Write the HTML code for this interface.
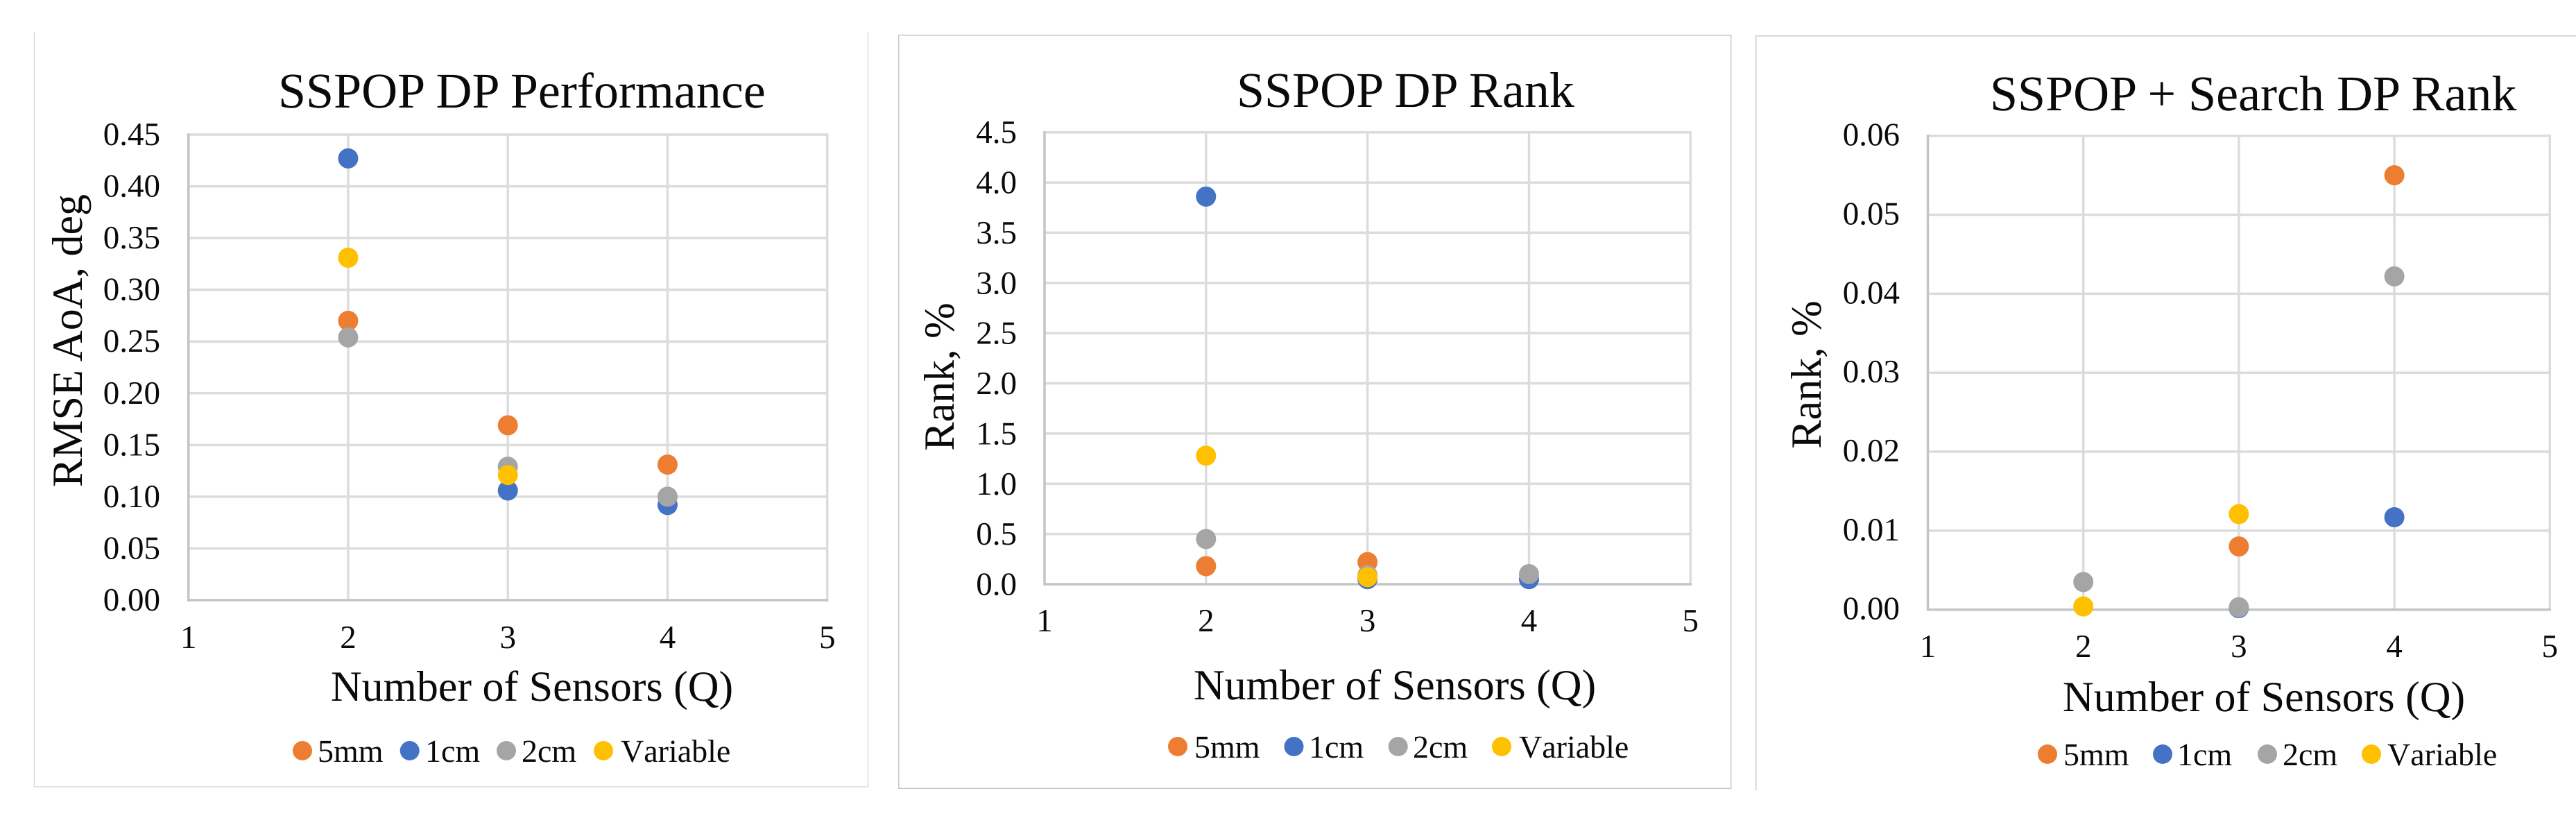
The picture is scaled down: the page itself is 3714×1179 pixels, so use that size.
<!DOCTYPE html>
<html lang="en">
<head>
<meta charset="utf-8">
<title>SSPOP DP charts</title>
<style>
html,body{margin:0;padding:0;background:#fff;width:3714px;height:1179px;overflow:hidden}
svg{display:block}
text{font-family:"Liberation Serif","Times New Roman",serif;fill:#0a0a0a;text-rendering:geometricPrecision}
.title{font-size:72px}
.axis-title{font-size:62px}
.tick{font-size:47px}
.legend-label{font-size:46px;font-kerning:none}
</style>
</head>
<body>
<svg id="figure" xmlns="http://www.w3.org/2000/svg" width="3714" height="1179" viewBox="0 0 3714 1179">
  <rect x="0" y="0" width="3714" height="1179" fill="#ffffff"/>

  <g id="chart-perf">
    <path d="M49.5 46V1134H1251.5V46" fill="none" stroke="#dcdcdc" stroke-width="1.5"/>
    <text class="title" x="401" y="155">SSPOP DP Performance</text>
    <text class="axis-title" text-anchor="middle" transform="translate(118 491) rotate(-90)">RMSE AoA, deg</text>
    <text class="axis-title" text-anchor="middle" x="767" y="1010">Number of Sensors (Q)</text>
  </g>

  <g id="chart-rank">
    <rect x="1295.7" y="50.7" width="1200" height="1085.6" fill="none" stroke="#c8c8c8" stroke-width="1.5"/>
    <text class="title" x="1783" y="154">SSPOP DP Rank</text>
    <text class="axis-title" text-anchor="middle" transform="translate(1375 543) rotate(-90)">Rank, %</text>
    <text class="axis-title" text-anchor="middle" x="2011" y="1008">Number of Sensors (Q)</text>
  </g>

  <g id="chart-search">
    <path d="M2531.7 1139V51.7H3714" fill="none" stroke="#c8c8c8" stroke-width="1.5"/>
    <text class="title" x="2869" y="159">SSPOP + Search DP Rank</text>
    <text class="axis-title" text-anchor="middle" transform="translate(2625 540) rotate(-90)">Rank, %</text>
    <text class="axis-title" text-anchor="middle" x="3264" y="1025">Number of Sensors (Q)</text>
  </g>
</svg>

<script>
// Shared data
const seriesNames = ['5mm', '1cm', '2cm', 'Variable'];
const seriesKeys = ['5mm', '1cm', '2cm', 'variable'];
const seriesColors = ['#ED7D31', '#4472C4', '#A5A5A5', '#FFC000'];
const xCategories = [2, 3, 4];
const xTickLabels = ['1', '2', '3', '4', '5'];

// Chart 1: SSPOP DP Performance
const perfYTicks = ['0.00', '0.05', '0.10', '0.15', '0.20', '0.25', '0.30', '0.35', '0.40', '0.45'];
const perf5mm = [0.27, 0.169, 0.131];
const perf1cm = [0.427, 0.106, 0.092];
const perf2cm = [0.254, 0.129, 0.1];
const perfVariable = [0.331, 0.121, null];

// Chart 2: SSPOP DP Rank
const rankYTicks = ['0.0', '0.5', '1.0', '1.5', '2.0', '2.5', '3.0', '3.5', '4.0', '4.5'];
const rank5mm = [0.18, 0.22, null];
const rank1cm = [3.86, 0.05, 0.05];
const rank2cm = [0.45, 0.09, 0.1];
const rankVariable = [1.28, 0.07, null];

// Chart 3: SSPOP + Search DP Rank
const searchYTicks = ['0.00', '0.01', '0.02', '0.03', '0.04', '0.05', '0.06'];
const search5mm = [null, 0.008, 0.055];
const search1cm = [null, 0.0002, 0.0117];
const search2cm = [0.0035, 0.0003, 0.0422];
const searchVariable = [0.0004, 0.0121, null];

const SVG_NS = 'http://www.w3.org/2000/svg';

function make(tag, attrs, parent) {
  const node = document.createElementNS(SVG_NS, tag);
  Object.keys(attrs).forEach(function (k) { node.setAttribute(k, attrs[k]); });
  parent.appendChild(node);
  return node;
}

function drawChart(cfg) {
  const root = document.getElementById(cfg.id);
  const xMin = Number(xTickLabels[0]);
  const xMax = Number(xTickLabels[xTickLabels.length - 1]);
  const yMin = Number(cfg.yTicks[0]);
  const yMax = Number(cfg.yTicks[cfg.yTicks.length - 1]);
  const xScale = function (v) { return cfg.left + (v - xMin) / (xMax - xMin) * (cfg.right - cfg.left); };
  const yScale = function (v) { return cfg.bottom - (v - yMin) / (yMax - yMin) * (cfg.bottom - cfg.top); };

  const grid = make('g', { stroke: '#DCDCDC', 'stroke-width': 3.5 }, root);
  
  
  cfg.yTicks.forEach(function (t) {
    const y = yScale(Number(t));
    if (Number(t) === yMin) return;
    const line = make('line', { x1: cfg.left, x2: cfg.right + 1.7, y1: y, y2: y }, grid);
    
    
  });
  xTickLabels.forEach(function (t) {
    const x = xScale(Number(t));
    if (Number(t) === xMin) return;
    const line = make('line', { x1: x, x2: x, y1: cfg.top - 1.7, y2: cfg.bottom }, grid);
    
    
  });

  const yAxis = make('line', { x1: cfg.left, x2: cfg.left, y1: cfg.top - 1.7, y2: cfg.bottom + 1.7, stroke: '#C4C4C4', 'stroke-width': 3.5 }, root);
  
  
  const xAxis = make('line', { x1: cfg.left, x2: cfg.right + 1.7, y1: cfg.bottom, y2: cfg.bottom, stroke: '#C4C4C4', 'stroke-width': 3.5 }, root);
  
  

  cfg.yTicks.forEach(function (t) {
    const label = make('text', { class: 'tick', x: cfg.yLabelRight, y: yScale(Number(t)) + cfg.yLabelDrop, 'text-anchor': 'end' }, root);
    
    
    label.textContent = t;
  });
  xTickLabels.forEach(function (t) {
    const label = make('text', { class: 'tick', x: xScale(Number(t)), y: cfg.xLabelBase, 'text-anchor': 'middle' }, root);
    
    
    label.textContent = t;
  });

  cfg.series.forEach(function (values, s) {
    const group = make('g', { fill: seriesColors[s] }, root);
    
    
    values.forEach(function (v, i) {
      if (v === null) return;
      const dot = make('circle', { cx: xScale(xCategories[i]), cy: yScale(v), r: 14.5 }, group);
      
      
    });
  });

  seriesNames.forEach(function (name, s) {
    const entry = make('g', {}, root);
    
    
    const swatch = make('circle', { cx: cfg.legendDots[s], cy: cfg.legendY, r: 14, fill: seriesColors[s] }, entry);
    
    
    const label = make('text', { class: 'legend-label', x: cfg.legendText[s], y: cfg.legendBase }, entry);
    
    
    label.textContent = name;
  });
}

drawChart({
  id: 'chart-perf', left: 271.7, right: 1192.7, top: 194, bottom: 865,
  yTicks: perfYTicks, series: [perf5mm, perf1cm, perf2cm, perfVariable],
  yLabelRight: 231, yLabelDrop: 15, xLabelBase: 934,
  legendDots: [436, 590.7, 730, 870], legendText: [458, 613, 752, 895], legendY: 1082, legendBase: 1098
});
drawChart({
  id: 'chart-rank', left: 1506, right: 2437.3, top: 190.7, bottom: 842,
  yTicks: rankYTicks, series: [rank5mm, rank1cm, rank2cm, rankVariable],
  yLabelRight: 1466, yLabelDrop: 15.5, xLabelBase: 910,
  legendDots: [1698, 1865.5, 2015.7, 2165], legendText: [1722, 1887, 2037, 2190], legendY: 1076, legendBase: 1092
});
drawChart({
  id: 'chart-search', left: 2779.5, right: 3676.3, top: 195.7, bottom: 878.7,
  yTicks: searchYTicks, series: [search5mm, search1cm, search2cm, searchVariable],
  yLabelRight: 2739, yLabelDrop: 14, xLabelBase: 947,
  legendDots: [2952, 3118, 3269, 3419], legendText: [2975, 3139, 3291, 3442], legendY: 1087, legendBase: 1103
});
</script>
</body>
</html>
